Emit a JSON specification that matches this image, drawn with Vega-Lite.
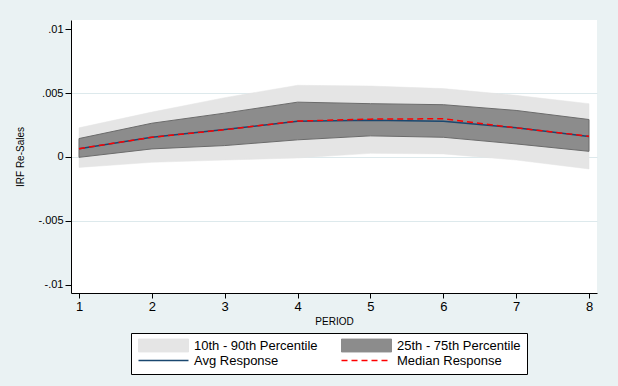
{
  "$schema": "https://vega.github.io/schema/vega-lite/v6.json",
  "width": 526,
  "height": 273,
  "autosize": "none",
  "padding": {"left": 71, "top": 20, "right": 21, "bottom": 93},
  "background": "#eaf2f3",
  "config": {
    "font": "Liberation Sans",
    "view": {"fill": "white", "stroke": null},
    "axis": {"domainColor": "black", "tickColor": "black", "labelColor": "black", "titleColor": "black", "titleFontWeight": "normal", "labelFont": "Liberation Sans", "titleFont": "Liberation Sans"}
  },
  "data": {
    "values": [
      {"period": 1, "p10": -0.00082, "p90": 0.00228, "p25": -0.00003, "p75": 0.00144, "avg": 0.00065, "median": 0.00065},
      {"period": 2, "p10": -0.00042, "p90": 0.00351, "p25": 0.00063, "p75": 0.00264, "avg": 0.00154, "median": 0.00154},
      {"period": 3, "p10": -0.00024, "p90": 0.00464, "p25": 0.00089, "p75": 0.00343, "avg": 0.00215, "median": 0.00213},
      {"period": 4, "p10": -0.00008, "p90": 0.00561, "p25": 0.00134, "p75": 0.00429, "avg": 0.0028, "median": 0.00281},
      {"period": 5, "p10": 0.00028, "p90": 0.00555, "p25": 0.00165, "p75": 0.00417, "avg": 0.00288, "median": 0.00296},
      {"period": 6, "p10": 0.00024, "p90": 0.00535, "p25": 0.00154, "p75": 0.00409, "avg": 0.0028, "median": 0.00299},
      {"period": 7, "p10": -0.00024, "p90": 0.00482, "p25": 0.00102, "p75": 0.00364, "avg": 0.00228, "median": 0.00228},
      {"period": 8, "p10": -0.00094, "p90": 0.00417, "p25": 0.00044, "p75": 0.00293, "avg": 0.0016, "median": 0.00162}
    ]
  },
  "encoding": {
    "x": {
      "field": "period", "type": "quantitative",
      "scale": {"domain": [0.89, 8.11], "nice": false, "zero": false},
      "axis": {"values": [1, 2, 3, 4, 5, 6, 7, 8], "title": "PERIOD", "titleFontSize": 10, "titlePadding": 3, "labelFontSize": 13, "tickSize": 5, "labelPadding": 2, "grid": false, "labelFlush": false}
    }
  },
  "layer": [
    {
      "mark": {"type": "area", "opacity": 1, "stroke": "#e5e5e5", "strokeWidth": 0.5},
      "encoding": {
        "y": {
          "field": "p10", "type": "quantitative",
          "scale": {"domain": [-0.01065, 0.01072], "nice": false, "zero": false},
          "axis": {
            "values": [-0.01, -0.005, 0, 0.005, 0.01],
            "labelExpr": "replace(toString(datum.value), '0.', '.')",
            "title": "IRF Re-Sales", "titleFontSize": 10, "titlePadding": 12,
            "labelFontSize": 11, "tickSize": 6, "labelPadding": 2, "labelFlush": false,
            "grid": true, "gridColor": "#dde9ec", "gridWidth": 1,
            "gridOpacity": {"condition": {"test": "abs(datum.value) > 0.009", "value": 0}, "value": 1}
          }
        },
        "y2": {"field": "p90"},
        "color": {
          "datum": "10th - 90th Percentile", "type": "nominal",
          "scale": {"domain": ["10th - 90th Percentile", "25th - 75th Percentile", "Avg Response", "Median Response"], "range": ["#e5e5e5", "#8c8c8c", "#1a476f", "#ff0000"]},
          "legend": {
            "title": null, "orient": "none", "legendX": 60, "legendY": 313, "direction": "horizontal", "columns": 2,
            "columnPadding": 20, "rowPadding": -2, "symbolSize": 100, "labelOffset": 44,
            "labelFontSize": 13, "labelFont": "Liberation Sans", "labelColor": "black", "labelLimit": 300,
            "padding": 6, "strokeColor": "black", "fillColor": "white",
            "encoding": {
              "symbols": {
                "shape": {"value": {"expr": "datum.value == 'Avg Response' || datum.value == 'Median Response' ? 'M-1,0H9' : 'M-1,-1.3H9V1.3H-1Z'"}},
                "fill": {"value": {"expr": "datum.value == '10th - 90th Percentile' ? '#e5e5e5' : datum.value == '25th - 75th Percentile' ? '#8c8c8c' : 'transparent'"}},
                "stroke": {"value": {"expr": "datum.value == '10th - 90th Percentile' ? '#e5e5e5' : datum.value == '25th - 75th Percentile' ? '#6b6b6b' : datum.value == 'Avg Response' ? '#1a476f' : '#ff0000'"}},
                "strokeDash": {"value": {"expr": "datum.value == 'Median Response' ? [6, 4] : [1, 0]"}},
                "strokeWidth": {"value": {"expr": "datum.value == 'Avg Response' || datum.value == 'Median Response' ? 1.5 : 1"}},
                "opacity": {"value": 1}
              }
            }
          }
        }
      }
    },
    {
      "mark": {"type": "area", "opacity": 1, "stroke": "#6b6b6b", "strokeWidth": 1},
      "encoding": {
        "y": {"field": "p25", "type": "quantitative"},
        "y2": {"field": "p75"},
        "color": {"datum": "25th - 75th Percentile", "type": "nominal"}
      }
    },
    {
      "mark": {"type": "line", "strokeWidth": 1.5},
      "encoding": {
        "y": {"field": "avg", "type": "quantitative"},
        "color": {"datum": "Avg Response", "type": "nominal"}
      }
    },
    {
      "mark": {"type": "line", "strokeWidth": 1.5, "strokeDash": [6, 4]},
      "encoding": {
        "y": {"field": "median", "type": "quantitative"},
        "color": {"datum": "Median Response", "type": "nominal"}
      }
    }
  ]
}
